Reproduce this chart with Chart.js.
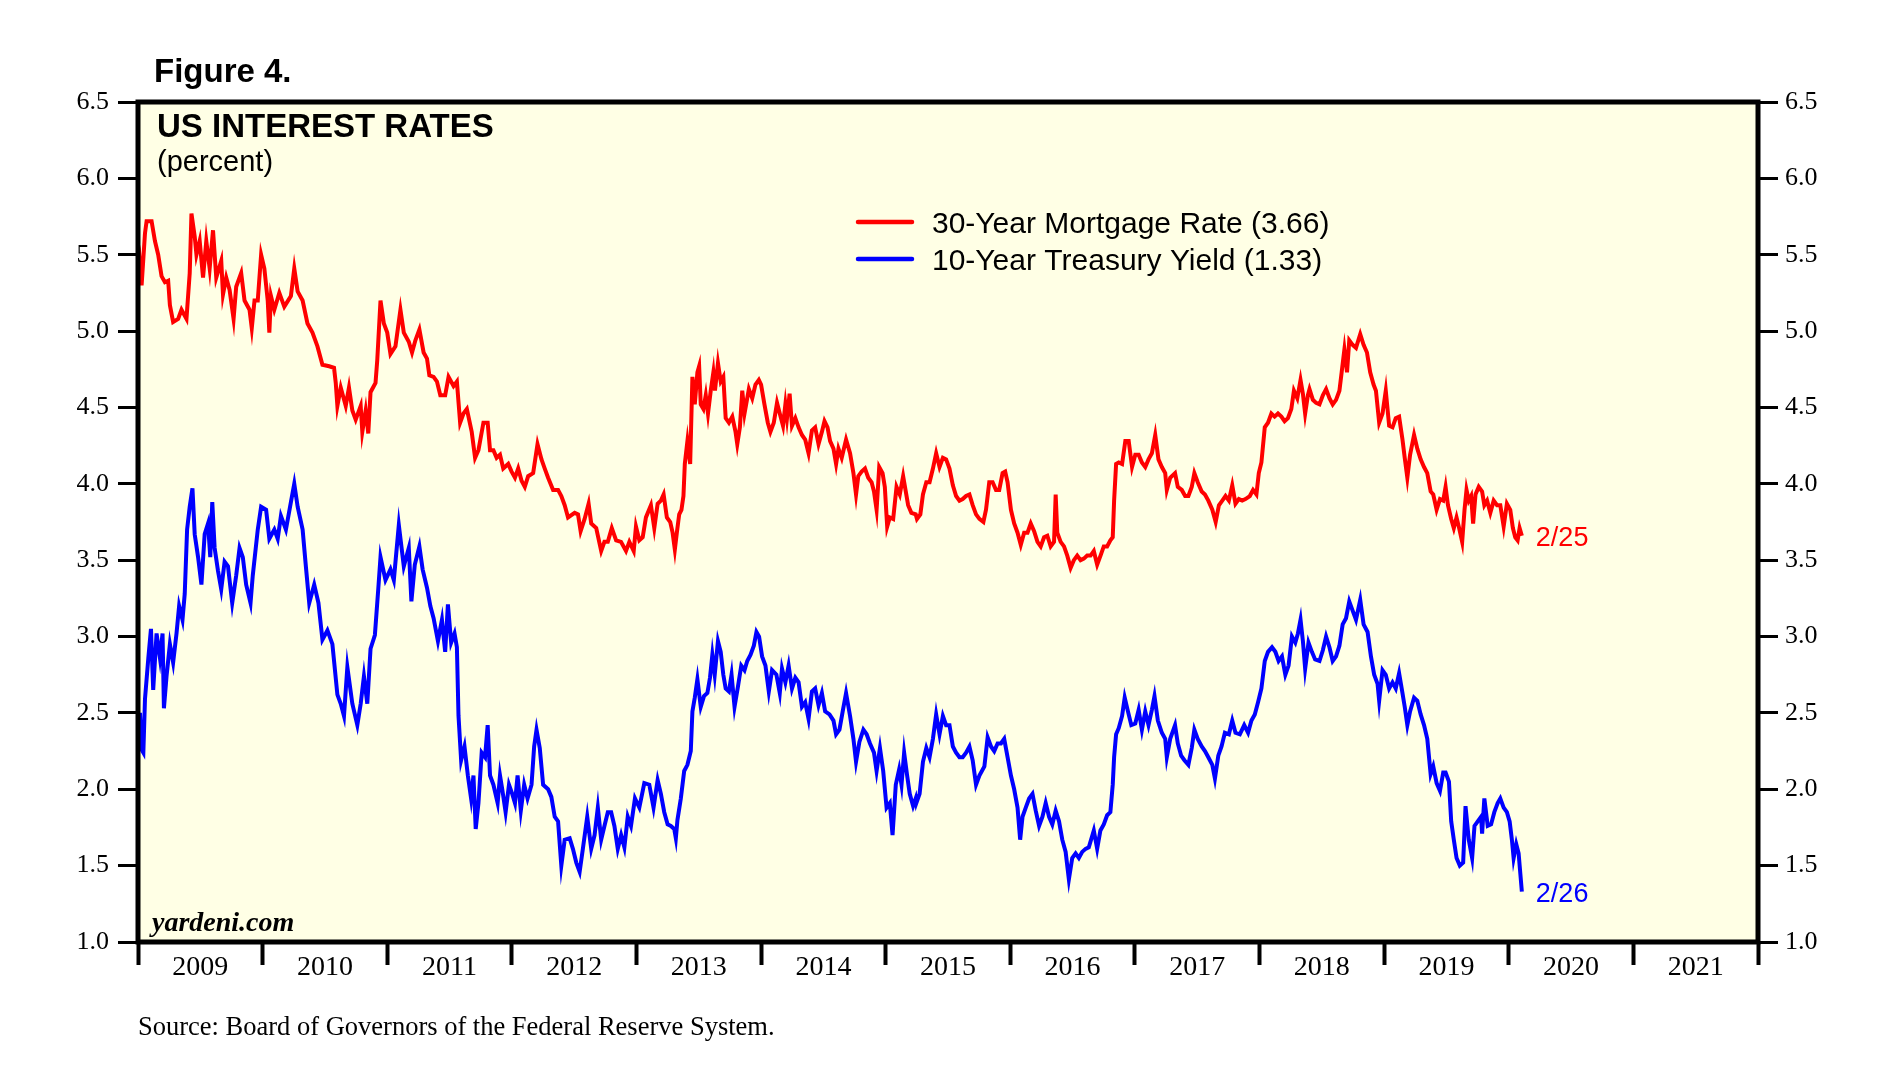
<!doctype html>
<html lang="en">
<head>
<meta charset="utf-8">
<title>US Interest Rates</title>
<script src="https://cdn.jsdelivr.net/npm/chart.js"></script>
<style>
  html, body { margin: 0; padding: 0; background: #fff; }
  #chart { display: block; }
</style>
</head>
<body>
<canvas id="chart" width="1900" height="1087" style="width:1900px;height:1087px"></canvas>
<script>
// year labels on the x axis (each label sits in the middle of its year)
const years = [2009, 2010, 2011, 2012, 2013, 2014, 2015, 2016, 2017, 2018, 2019, 2020, 2021];
const yTicks = [1.0, 1.5, 2.0, 2.5, 3.0, 3.5, 4.0, 4.5, 5.0, 5.5, 6.0, 6.5];
const seriesNames = ['30-Year Mortgage Rate (3.66)', '10-Year Treasury Yield (1.33)'];
const endLabels = ['2/25', '2/26'];

// [decimal year, percent]
const mortgageRate = [
  [2009.003,5.36],[2009.016,5.44],[2009.029,5.30],[2009.056,5.64],[2009.069,5.72],[2009.109,5.72],[2009.136,5.59],[2009.162,5.50],
  [2009.189,5.36],[2009.216,5.32],[2009.242,5.33],[2009.256,5.17],[2009.282,5.06],[2009.322,5.08],[2009.349,5.14],[2009.389,5.08],
  [2009.415,5.38],[2009.429,5.77],[2009.455,5.62],[2009.469,5.50],[2009.495,5.59],[2009.522,5.35],[2009.548,5.59],[2009.575,5.41],
  [2009.602,5.66],[2009.628,5.35],[2009.668,5.46],[2009.682,5.24],[2009.708,5.35],[2009.735,5.27],[2009.767,5.08],[2009.788,5.29],
  [2009.828,5.38],[2009.855,5.20],[2009.895,5.14],[2009.913,5.02],[2009.935,5.20],[2009.961,5.20],[2009.988,5.50],[2010.014,5.41],
  [2010.041,5.20],[2010.054,4.99],[2010.067,5.23],[2010.094,5.14],[2010.134,5.25],[2010.174,5.16],[2010.227,5.23],[2010.254,5.41],
  [2010.281,5.26],[2010.321,5.20],[2010.360,5.05],[2010.400,4.99],[2010.440,4.90],[2010.480,4.78],[2010.534,4.77],[2010.573,4.76],
  [2010.587,4.66],[2010.600,4.51],[2010.627,4.63],[2010.667,4.51],[2010.693,4.63],[2010.720,4.48],[2010.747,4.42],[2010.787,4.51],
  [2010.800,4.34],[2010.827,4.48],[2010.848,4.33],[2010.866,4.60],[2010.906,4.66],[2010.920,4.81],[2010.946,5.20],[2010.973,5.05],
  [2011.000,4.99],[2011.026,4.85],[2011.066,4.90],[2011.106,5.14],[2011.133,4.99],[2011.173,4.93],
  [2011.199,4.86],[2011.226,4.94],[2011.258,5.01],[2011.292,4.86],[2011.319,4.82],[2011.338,4.71],[2011.372,4.70],[2011.399,4.67],
  [2011.426,4.58],[2011.465,4.58],[2011.492,4.70],[2011.532,4.64],[2011.559,4.67],[2011.585,4.40],[2011.612,4.46],[2011.639,4.49],
  [2011.678,4.34],[2011.705,4.17],[2011.732,4.22],[2011.772,4.40],[2011.806,4.40],[2011.825,4.22],[2011.852,4.22],[2011.878,4.17],
  [2011.905,4.19],[2011.931,4.10],[2011.971,4.13],[2011.998,4.08],[2012.025,4.04],[2012.051,4.10],[2012.078,4.02],[2012.104,3.98],
  [2012.131,4.05],[2012.171,4.07],[2012.206,4.26],[2012.238,4.16],[2012.264,4.10],[2012.291,4.04],[2012.331,3.96],[2012.371,3.96],
  [2012.397,3.92],[2012.424,3.86],[2012.451,3.78],[2012.504,3.81],[2012.531,3.80],[2012.552,3.69],[2012.584,3.77],[2012.616,3.87],
  [2012.637,3.74],[2012.677,3.71],[2012.717,3.56],[2012.743,3.62],[2012.770,3.62],[2012.802,3.71],[2012.837,3.63],[2012.876,3.62],
  [2012.916,3.56],[2012.943,3.62],[2012.978,3.56],[2012.996,3.72],[2013.023,3.63],[2013.050,3.65],[2013.076,3.78],[2013.116,3.86],
  [2013.143,3.71],
  [2013.170,3.87],[2013.196,3.89],[2013.218,3.93],[2013.244,3.78],[2013.271,3.75],[2013.290,3.68],[2013.308,3.57],[2013.324,3.68],
  [2013.343,3.80],[2013.361,3.83],[2013.377,3.92],[2013.388,4.13],[2013.409,4.28],[2013.431,4.13],[2013.449,4.70],[2013.468,4.52],
  [2013.489,4.73],[2013.503,4.77],[2013.516,4.52],[2013.537,4.49],[2013.556,4.58],[2013.574,4.46],[2013.596,4.61],[2013.617,4.73],
  [2013.630,4.61],[2013.654,4.79],[2013.676,4.67],[2013.697,4.70],[2013.716,4.43],[2013.742,4.40],[2013.769,4.44],[2013.795,4.34],
  [2013.809,4.26],[2013.830,4.37],[2013.849,4.61],[2013.867,4.46],[2013.902,4.62],[2013.929,4.56],[2013.955,4.65],[2013.982,4.68],
  [2014.000,4.65],[2014.027,4.52],[2014.054,4.40],[2014.075,4.34],[2014.102,4.40],[2014.128,4.53],[2014.150,4.46],[2014.176,4.38],
  [2014.195,4.52],[2014.208,4.43],[2014.229,4.59],[2014.248,4.38],[2014.275,4.43],[2014.301,4.37],[2014.328,4.32],[2014.354,4.29],
  [2014.381,4.20],[2014.408,4.35],[2014.434,4.37],[2014.461,4.26],[2014.488,4.34],[2014.509,4.41],[2014.533,4.37],[2014.554,4.28],
  [2014.581,4.23],[2014.602,4.13],[2014.621,4.23],[2014.647,4.17],[2014.682,4.29],[2014.714,4.20],[2014.741,4.07],[2014.762,3.93],
  [2014.780,4.05],[2014.807,4.08],[2014.834,4.10],[2014.860,4.04],[2014.887,4.01],[2014.906,3.95],[2014.927,3.83],[2014.948,4.11],
  [2014.975,4.07],[2014.993,3.98],[2015.012,3.72],[2015.033,3.78],[2015.060,3.77],[2015.087,3.98],[2015.113,3.93],[2015.140,4.05],
  [2015.161,3.95],[2015.180,3.86],[2015.206,3.81],[2015.241,3.80],
  [2015.251,3.77],[2015.278,3.80],[2015.299,3.93],[2015.326,4.01],[2015.352,4.01],[2015.379,4.10],[2015.405,4.20],[2015.432,4.11],
  [2015.459,4.17],[2015.485,4.16],[2015.512,4.10],[2015.539,3.99],[2015.565,3.92],[2015.592,3.89],[2015.618,3.90],[2015.645,3.92],
  [2015.672,3.93],[2015.698,3.86],[2015.725,3.80],[2015.752,3.77],[2015.784,3.75],[2015.805,3.83],[2015.831,4.01],[2015.858,4.01],
  [2015.885,3.96],[2015.911,3.96],[2015.938,4.07],[2015.959,4.08],[2015.978,4.01],[2016.005,3.83],[2016.031,3.74],[2016.058,3.68],
  [2016.084,3.60],[2016.111,3.68],[2016.138,3.68],[2016.164,3.74],[2016.191,3.69],[2016.218,3.62],[2016.244,3.59],[2016.271,3.65],
  [2016.297,3.66],[2016.324,3.59],[2016.351,3.62],[2016.364,3.93],[2016.377,3.68],[2016.404,3.62],[2016.431,3.59],[2016.457,3.53],
  [2016.484,3.45],[2016.510,3.50],[2016.537,3.53],[2016.564,3.50],[2016.590,3.51],[2016.617,3.53],[2016.644,3.53],[2016.670,3.56],
  [2016.697,3.47],[2016.724,3.53],[2016.750,3.59],[2016.777,3.59],[2016.803,3.63],[2016.822,3.65],[2016.833,3.89],[2016.849,4.13],
  [2016.870,4.14],[2016.897,4.13],[2016.923,4.28],[2016.950,4.28],[2016.977,4.11],[2017.003,4.19],[2017.030,4.19],[2017.056,4.14],
  [2017.083,4.11],[2017.109,4.16],[2017.136,4.20],[2017.163,4.32],[2017.189,4.16],[2017.216,4.11],[2017.243,4.07],[2017.256,3.96],
  [2017.283,4.04],[2017.322,4.07],
  [2017.344,3.98],[2017.376,3.96],[2017.403,3.92],[2017.429,3.92],[2017.456,3.98],[2017.477,4.07],[2017.504,4.01],[2017.536,3.95],
  [2017.562,3.93],[2017.589,3.89],[2017.621,3.83],[2017.648,3.75],[2017.674,3.86],[2017.701,3.89],[2017.727,3.92],[2017.754,3.89],
  [2017.781,3.99],[2017.807,3.87],[2017.834,3.90],[2017.861,3.89],[2017.887,3.90],[2017.922,3.92],[2017.948,3.96],[2017.975,3.93],
  [2017.994,4.07],[2018.015,4.14],[2018.042,4.37],[2018.068,4.40],[2018.095,4.46],[2018.121,4.44],[2018.148,4.46],[2018.175,4.44],
  [2018.201,4.41],[2018.228,4.43],[2018.255,4.49],[2018.276,4.61],[2018.303,4.56],[2018.329,4.68],[2018.348,4.59],[2018.366,4.46],
  [2018.388,4.58],[2018.401,4.62],[2018.428,4.55],[2018.454,4.53],[2018.481,4.52],[2018.508,4.58],[2018.534,4.62],[2018.561,4.56],
  [2018.587,4.52],[2018.614,4.55],[2018.641,4.61],[2018.659,4.73],[2018.681,4.88],[2018.702,4.73],[2018.720,4.94],[2018.747,4.91],
  [2018.774,4.89],[2018.808,4.98],[2018.835,4.91],[2018.862,4.86],[2018.888,4.73],[2018.915,4.65],[2018.934,4.61],[2018.960,4.40],
  [2018.987,4.46],[2019.013,4.61],[2019.040,4.38],[2019.067,4.37],[2019.093,4.43],[2019.120,4.44],[2019.147,4.29],[2019.165,4.17],
  [2019.186,4.04],[2019.208,4.19],[2019.240,4.32],[2019.266,4.23],[2019.293,4.16],[2019.320,4.11],[2019.346,4.07],
  [2019.373,3.95],[2019.394,3.93],[2019.421,3.83],[2019.448,3.90],[2019.474,3.89],[2019.493,3.98],[2019.512,3.86],[2019.538,3.77],
  [2019.559,3.71],[2019.581,3.78],[2019.599,3.72],[2019.626,3.62],[2019.645,3.83],[2019.661,3.96],[2019.679,3.89],[2019.698,3.92],
  [2019.714,3.74],[2019.733,3.93],[2019.759,3.98],[2019.786,3.95],[2019.804,3.86],[2019.826,3.89],[2019.852,3.81],[2019.879,3.89],
  [2019.906,3.86],[2019.932,3.86],[2019.959,3.72],[2019.985,3.87],[2020.012,3.83],[2020.033,3.71],[2020.052,3.65],[2020.071,3.63],
  [2020.087,3.71],[2020.105,3.66]
];

const treasuryYield = [
  [2009.003,2.26],[2009.016,2.50],[2009.029,2.26],[2009.043,2.24],[2009.056,2.59],[2009.083,2.86],[2009.104,3.05],[2009.122,2.65],
  [2009.149,3.02],[2009.176,2.86],[2009.197,3.02],[2009.208,2.53],[2009.229,2.74],[2009.256,2.95],[2009.282,2.83],[2009.309,3.02],
  [2009.330,3.20],[2009.357,3.11],[2009.375,3.28],[2009.394,3.70],[2009.415,3.85],[2009.437,3.97],[2009.455,3.67],[2009.482,3.52],
  [2009.509,3.34],[2009.535,3.67],[2009.562,3.74],[2009.580,3.52],[2009.596,3.88],[2009.615,3.58],[2009.642,3.43],[2009.668,3.31],
  [2009.695,3.49],[2009.722,3.46],[2009.756,3.22],[2009.788,3.40],[2009.815,3.58],[2009.841,3.52],[2009.868,3.34],[2009.903,3.22],
  [2009.921,3.40],[2009.961,3.70],[2009.988,3.85],[2010.028,3.83],[2010.054,3.64],[2010.094,3.70],[2010.121,3.64],[2010.147,3.79],
  [2010.187,3.70],[2010.227,3.88],[2010.254,4.00],[2010.281,3.85],[2010.321,3.70],[2010.347,3.46],[2010.374,3.22],[2010.414,3.34],
  [2010.448,3.22],[2010.480,2.98],[2010.520,3.04],[2010.560,2.95],[2010.600,2.62],[2010.627,2.56],[2010.653,2.48],[2010.680,2.80],
  [2010.720,2.56],[2010.760,2.42],[2010.787,2.56],[2010.813,2.74],[2010.840,2.56],[2010.866,2.92],[2010.901,3.01],[2010.928,3.31],
  [2010.946,3.52],[2010.986,3.37],[2011.026,3.44],[2011.053,3.37],[2011.093,3.73],[2011.133,3.46],[2011.173,3.58],
  [2011.194,3.23],[2011.221,3.47],[2011.258,3.59],[2011.284,3.44],[2011.319,3.32],[2011.346,3.20],[2011.372,3.12],[2011.407,2.97],
  [2011.439,3.11],[2011.465,2.90],[2011.487,3.21],[2011.513,2.96],[2011.540,3.02],[2011.559,2.93],[2011.572,2.48],[2011.593,2.19],
  [2011.620,2.28],[2011.647,2.09],[2011.673,1.94],[2011.692,2.09],[2011.710,1.74],[2011.732,1.91],[2011.758,2.24],[2011.785,2.21],
  [2011.806,2.42],[2011.825,2.09],[2011.852,2.03],[2011.886,1.91],[2011.905,2.09],[2011.923,2.00],[2011.950,1.85],[2011.977,2.03],
  [2012.003,1.97],[2012.025,1.91],[2012.046,2.09],[2012.072,1.86],[2012.099,2.03],[2012.126,1.94],[2012.158,2.03],[2012.179,2.28],
  [2012.198,2.39],[2012.224,2.27],[2012.251,2.03],[2012.291,2.00],[2012.317,1.95],[2012.344,1.82],[2012.371,1.79],[2012.397,1.50],
  [2012.424,1.67],[2012.464,1.68],[2012.490,1.61],[2012.517,1.52],[2012.544,1.46],[2012.570,1.61],[2012.605,1.82],[2012.637,1.61],
  [2012.664,1.70],[2012.690,1.88],[2012.717,1.67],[2012.743,1.76],[2012.770,1.85],[2012.797,1.85],[2012.823,1.76],[2012.850,1.61],
  [2012.877,1.70],[2012.903,1.62],[2012.930,1.82],[2012.956,1.76],[2012.988,1.94],[2013.023,1.88],[2013.063,2.04],[2013.103,2.03],
  [2013.137,1.88],
  [2013.170,2.06],[2013.196,1.97],[2013.223,1.85],[2013.250,1.77],[2013.276,1.76],[2013.303,1.74],[2013.316,1.68],[2013.329,1.80],
  [2013.356,1.94],[2013.383,2.12],[2013.409,2.16],[2013.436,2.25],[2013.449,2.51],[2013.468,2.60],[2013.489,2.72],[2013.516,2.54],
  [2013.542,2.61],[2013.569,2.63],[2013.590,2.73],[2013.609,2.88],[2013.628,2.75],[2013.654,2.97],[2013.676,2.90],[2013.697,2.75],
  [2013.716,2.66],[2013.742,2.64],[2013.763,2.75],[2013.787,2.54],[2013.814,2.67],[2013.841,2.81],[2013.867,2.78],[2013.889,2.84],
  [2013.915,2.88],[2013.942,2.94],[2013.963,3.03],[2013.984,3.00],[2014.008,2.87],[2014.035,2.81],[2014.062,2.64],[2014.088,2.78],
  [2014.123,2.75],[2014.150,2.63],[2014.168,2.79],[2014.195,2.70],[2014.221,2.81],[2014.248,2.66],[2014.275,2.73],[2014.301,2.70],
  [2014.328,2.54],[2014.354,2.57],[2014.381,2.46],[2014.408,2.64],[2014.434,2.66],[2014.461,2.55],[2014.488,2.63],[2014.514,2.51],
  [2014.549,2.49],[2014.581,2.45],[2014.602,2.36],[2014.629,2.39],[2014.655,2.51],[2014.682,2.63],[2014.714,2.48],[2014.741,2.33],
  [2014.762,2.18],[2014.789,2.31],[2014.821,2.39],[2014.847,2.36],[2014.874,2.30],[2014.906,2.24],[2014.927,2.12],[2014.954,2.27],
  [2014.980,2.12],[2015.007,1.88],[2015.033,1.91],[2015.055,1.70],[2015.081,2.03],[2015.108,2.13],[2015.127,2.03],[2015.148,2.24],
  [2015.172,2.09],[2015.193,1.97],[2015.220,1.89],[2015.241,1.94],
  [2015.246,1.91],[2015.272,1.97],[2015.299,2.18],[2015.326,2.27],[2015.352,2.21],[2015.379,2.33],[2015.405,2.49],[2015.432,2.36],
  [2015.459,2.48],[2015.485,2.42],[2015.512,2.42],[2015.539,2.28],[2015.565,2.24],[2015.592,2.21],[2015.618,2.21],[2015.645,2.24],
  [2015.672,2.28],[2015.698,2.19],[2015.725,2.03],[2015.752,2.09],[2015.792,2.15],[2015.818,2.34],[2015.845,2.28],[2015.871,2.25],
  [2015.898,2.30],[2015.925,2.30],[2015.951,2.33],[2015.978,2.21],[2016.005,2.09],[2016.031,2.00],[2016.058,1.88],[2016.079,1.67],
  [2016.098,1.82],[2016.124,1.88],[2016.151,1.94],[2016.178,1.97],[2016.204,1.86],[2016.231,1.76],[2016.258,1.82],[2016.284,1.91],
  [2016.311,1.82],[2016.337,1.77],[2016.364,1.86],[2016.391,1.79],[2016.417,1.67],[2016.444,1.59],[2016.470,1.41],[2016.497,1.55],
  [2016.524,1.58],[2016.550,1.55],[2016.577,1.59],[2016.604,1.61],[2016.630,1.62],[2016.670,1.73],[2016.697,1.61],[2016.723,1.73],
  [2016.750,1.77],[2016.777,1.83],[2016.803,1.85],[2016.822,2.03],[2016.833,2.21],[2016.849,2.36],[2016.870,2.40],[2016.897,2.48],
  [2016.918,2.60],[2016.944,2.51],[2016.971,2.42],[2017.003,2.43],[2017.030,2.52],[2017.056,2.39],[2017.083,2.51],[2017.109,2.42],
  [2017.136,2.52],[2017.157,2.61],[2017.184,2.45],[2017.216,2.37],[2017.243,2.33],[2017.256,2.21],[2017.283,2.33],[2017.322,2.42],
  [2017.344,2.30],[2017.371,2.22],[2017.397,2.19],[2017.429,2.16],[2017.456,2.27],[2017.477,2.39],[2017.504,2.33],[2017.536,2.28],
  [2017.562,2.25],[2017.589,2.21],[2017.621,2.16],[2017.642,2.07],[2017.669,2.22],[2017.695,2.28],[2017.722,2.37],[2017.754,2.36],
  [2017.781,2.45],[2017.807,2.37],[2017.842,2.36],[2017.877,2.42],[2017.908,2.37],[2017.935,2.45],[2017.962,2.49],[2017.988,2.57],
  [2018.015,2.66],[2018.042,2.84],[2018.068,2.90],[2018.100,2.93],[2018.127,2.90],[2018.153,2.84],[2018.180,2.87],[2018.207,2.75],
  [2018.233,2.81],[2018.260,3.00],[2018.287,2.96],[2018.308,3.02],[2018.329,3.11],[2018.348,2.97],[2018.366,2.79],[2018.393,2.96],
  [2018.420,2.90],[2018.446,2.85],[2018.481,2.84],[2018.508,2.91],[2018.534,3.00],[2018.561,2.93],[2018.587,2.84],[2018.614,2.87],
  [2018.641,2.94],[2018.667,3.08],[2018.694,3.12],[2018.720,3.23],[2018.747,3.17],[2018.774,3.11],[2018.808,3.24],[2018.835,3.08],
  [2018.867,3.03],[2018.894,2.87],[2018.920,2.75],[2018.947,2.69],[2018.960,2.58],[2018.987,2.78],[2019.013,2.75],[2019.040,2.66],
  [2019.067,2.70],[2019.093,2.66],[2019.120,2.76],[2019.147,2.63],[2019.165,2.54],[2019.186,2.42],[2019.208,2.51],[2019.240,2.60],
  [2019.266,2.58],[2019.293,2.49],[2019.320,2.42],[2019.346,2.33],[2019.373,2.10],
  [2019.394,2.15],[2019.421,2.04],[2019.448,1.99],[2019.474,2.11],[2019.493,2.11],[2019.520,2.05],[2019.538,1.79],[2019.559,1.67],
  [2019.581,1.55],[2019.607,1.50],[2019.634,1.52],[2019.653,1.89],[2019.679,1.67],[2019.706,1.55],[2019.725,1.76],[2019.751,1.79],
  [2019.778,1.82],[2019.786,1.71],[2019.804,1.94],[2019.831,1.76],[2019.858,1.77],[2019.884,1.85],[2019.911,1.91],[2019.932,1.94],
  [2019.959,1.88],[2019.985,1.85],[2020.007,1.79],[2020.025,1.67],[2020.039,1.55],[2020.060,1.64],[2020.079,1.58],[2020.105,1.33]
];

const sans = '"Liberation Sans", Arial, sans-serif';
const serif = '"Liberation Serif", "Times New Roman", serif';

// background, frame, legend and text notes
const decor = {
  id: 'decor',
  beforeDraw(chart) {
    const { ctx, chartArea: a } = chart;
    ctx.save();
    ctx.fillStyle = '#FFFFE5';
    ctx.fillRect(a.left, a.top, a.right - a.left, a.bottom - a.top);
    ctx.restore();
  },
  afterDatasetsDraw(chart) {
    const { ctx, chartArea: a } = chart;
    ctx.save();
    ctx.lineWidth = 5;
    ctx.strokeStyle = '#000';
    ctx.strokeRect(a.left, a.top, a.right - a.left, a.bottom - a.top);

    // legend
    chart.data.datasets.forEach((ds, i) => {
      const y = 222 + i * 37;
      ctx.strokeStyle = ds.borderColor;
      ctx.lineWidth = 4.5;
      ctx.lineCap = 'round';
      ctx.beginPath();
      ctx.moveTo(858, y);
      ctx.lineTo(912, y);
      ctx.stroke();
      ctx.fillStyle = '#000';
      ctx.font = '30px ' + sans;
      ctx.textBaseline = 'alphabetic';
      ctx.fillText(ds.label, 932, y + 11);
    });

    // date tags at the end of each line
    chart.data.datasets.forEach((ds, i) => {
      const pts = chart.getDatasetMeta(i).data;
      const p = pts[pts.length - 1];
      ctx.fillStyle = ds.borderColor;
      ctx.font = '27px ' + sans;
      ctx.textBaseline = 'alphabetic';
      ctx.fillText(endLabels[i], p.x + 14, p.y + 10);
    });

    ctx.fillStyle = '#000';
    ctx.font = 'bold 33px ' + sans;
    ctx.fillText('Figure 4.', 154, 82);
    ctx.font = 'bold 33px ' + sans;
    ctx.fillText('US INTEREST RATES', 157, 137);
    ctx.font = '29px ' + sans;
    ctx.fillText('(percent)', 157, 171);
    ctx.font = 'italic bold 28px ' + serif;
    ctx.fillText('yardeni.com', 152, 931);
    ctx.font = '26.5px ' + serif;
    ctx.fillText('Source: Board of Governors of the Federal Reserve System.', 138, 1035);
    ctx.restore();
  }
};

const yAxis = (pos, width, pad) => ({
  type: 'linear',
  position: pos,
  min: yTicks[0],
  max: yTicks[yTicks.length - 1],
  afterBuildTicks: (s) => { s.ticks = yTicks.map(v => ({ value: v })); },
  afterFit: (s) => { s.width = width; },
  border: { display: false },
  grid: { drawOnChartArea: false, tickLength: 20, tickWidth: 3, tickColor: '#000' },
  ticks: {
    padding: pad,
    color: '#000',
    font: { family: serif, size: 26 },
    callback: (v) => v.toFixed(1)
  }
});

new Chart(document.getElementById('chart').getContext('2d'), {
  type: 'line',
  data: {
    datasets: [
      {
        label: seriesNames[0],
        data: mortgageRate.map(d => ({ x: d[0], y: d[1] })),
        borderColor: '#FF0000',
        borderWidth: 4,
        pointRadius: 0,
        tension: 0
      },
      {
        label: seriesNames[1],
        data: treasuryYield.map(d => ({ x: d[0], y: d[1] })),
        borderColor: '#0000FF',
        borderWidth: 4,
        pointRadius: 0,
        tension: 0
      }
    ]
  },
  options: {
    responsive: false,
    animation: false,
    devicePixelRatio: 1,
    layout: { padding: { top: 102, left: 0, right: 0, bottom: 0 } },
    plugins: { legend: { display: false }, tooltip: { enabled: false } },
    scales: {
      x: {
        type: 'linear',
        min: years[0],
        max: years[years.length - 1] + 1,
        afterBuildTicks: (s) => {
          const t = [];
          years.forEach(y => { t.push({ value: y }); t.push({ value: y + 0.5 }); });
          t.push({ value: years[years.length - 1] + 1 });
          s.ticks = t;
        },
        afterFit: (s) => { s.height = 145; },
        border: { display: false },
        grid: {
          drawOnChartArea: false,
          tickLength: 23,
          tickWidth: 4,
          tickColor: (c) => (c.tick && Number.isInteger(c.tick.value)) ? '#000' : 'rgba(0,0,0,0)'
        },
        ticks: {
          autoSkip: false,
          maxRotation: 0,
          padding: -14,
          color: '#000',
          font: { family: serif, size: 28 },
          callback: (v) => Number.isInteger(v) ? '' : String(Math.floor(v))
        }
      },
      y: yAxis('left', 138, 9),
      y2: yAxis('right', 142, 7)
    }
  },
  plugins: [decor]
});
</script>
</body>
</html>
